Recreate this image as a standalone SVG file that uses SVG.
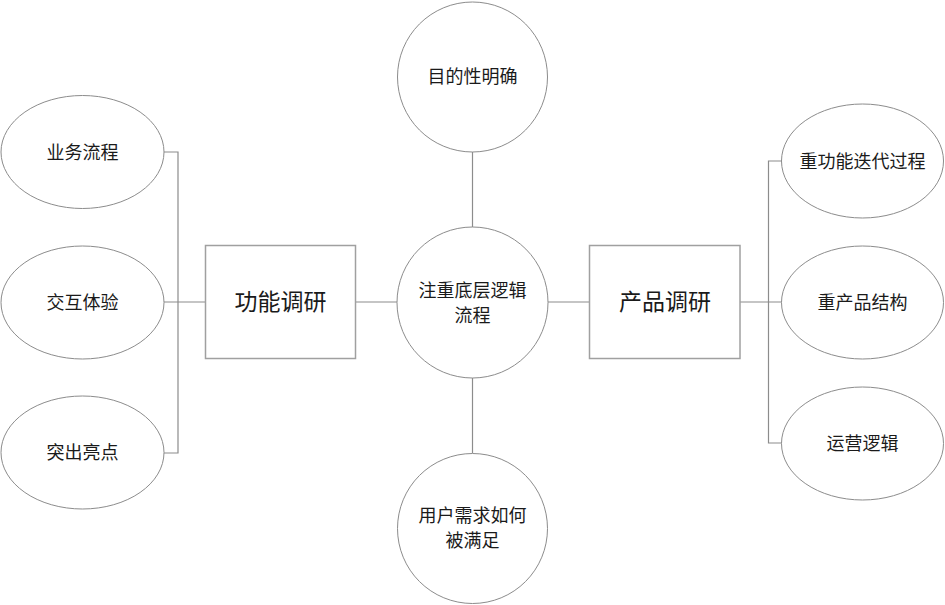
<svg xmlns="http://www.w3.org/2000/svg" width="945" height="605" viewBox="0 0 945 605">
<style>
  .shape { fill: #ffffff; stroke: #8c8c8c; stroke-width: 1; }
  .box { fill: #ffffff; stroke: #a0a0a0; stroke-width: 1.5; }
  .conn { fill: none; stroke: #8c8c8c; stroke-width: 1.2; }
  text { font-family: "Noto Sans CJK SC", "Noto Sans", sans-serif; fill: #1a1a1a; text-anchor: middle; dominant-baseline: central; }
  .t { font-size: 18px; }
  .big { font-size: 23px; }
</style>
<rect width="945" height="605" fill="#ffffff"/>
<g id="connectors">
  <polyline class="conn" points="163,152 178,152 178,453 163,453"/>
  <line class="conn" x1="163" y1="302" x2="205" y2="302"/>
  <line class="conn" x1="356" y1="302" x2="397" y2="302"/>
  <line class="conn" x1="548" y1="302" x2="590" y2="302"/>
  <line class="conn" x1="740" y1="302" x2="782" y2="302"/>
  <polyline class="conn" points="782,161 768.5,161 768.5,443 782,443"/>
  <line class="conn" x1="472.5" y1="152" x2="472.5" y2="227"/>
  <line class="conn" x1="472.5" y1="378" x2="472.5" y2="453"/>
</g>
<g id="n-yewu"><ellipse class="shape" cx="82.5" cy="152" rx="81.5" ry="56.5"/><text class="t" x="82.5" y="150.5">业务流程</text></g>
<g id="n-jiaohu"><ellipse class="shape" cx="82.5" cy="302.5" rx="81.5" ry="56.5"/><text class="t" x="82.5" y="300.5">交互体验</text></g>
<g id="n-tuchu"><ellipse class="shape" cx="82.5" cy="452.5" rx="81.5" ry="56.5"/><text class="t" x="82.5" y="450.5">突出亮点</text></g>
<g id="n-gongneng"><rect class="box" x="205.5" y="245.5" width="150" height="113"/><text class="big" x="280.5" y="300">功能调研</text></g>
<g id="n-center"><circle class="shape" cx="472.5" cy="302.5" r="75.5"/><text class="t" x="472.5" y="288.5">注重底层逻辑</text><text class="t" x="472.5" y="313.5">流程</text></g>
<g id="n-top"><circle class="shape" cx="472.5" cy="77" r="75"/><text class="t" x="472.5" y="74.5">目的性明确</text></g>
<g id="n-bottom"><circle class="shape" cx="472.5" cy="528.5" r="75"/><text class="t" x="472.5" y="514">用户需求如何</text><text class="t" x="472.5" y="539">被满足</text></g>
<g id="n-chanpin"><rect class="box" x="589.5" y="245.5" width="150.5" height="113"/><text class="big" x="665" y="300">产品调研</text></g>
<g id="n-diedai"><ellipse class="shape" cx="862.5" cy="161" rx="81" ry="57"/><text class="t" x="862.5" y="159.5">重功能迭代过程</text></g>
<g id="n-jiegou"><ellipse class="shape" cx="862.5" cy="302.5" rx="81" ry="56.5"/><text class="t" x="862.5" y="300.5">重产品结构</text></g>
<g id="n-yunying"><ellipse class="shape" cx="862.5" cy="443.5" rx="81" ry="56.5"/><text class="t" x="862.5" y="441.5">运营逻辑</text></g>
</svg>
